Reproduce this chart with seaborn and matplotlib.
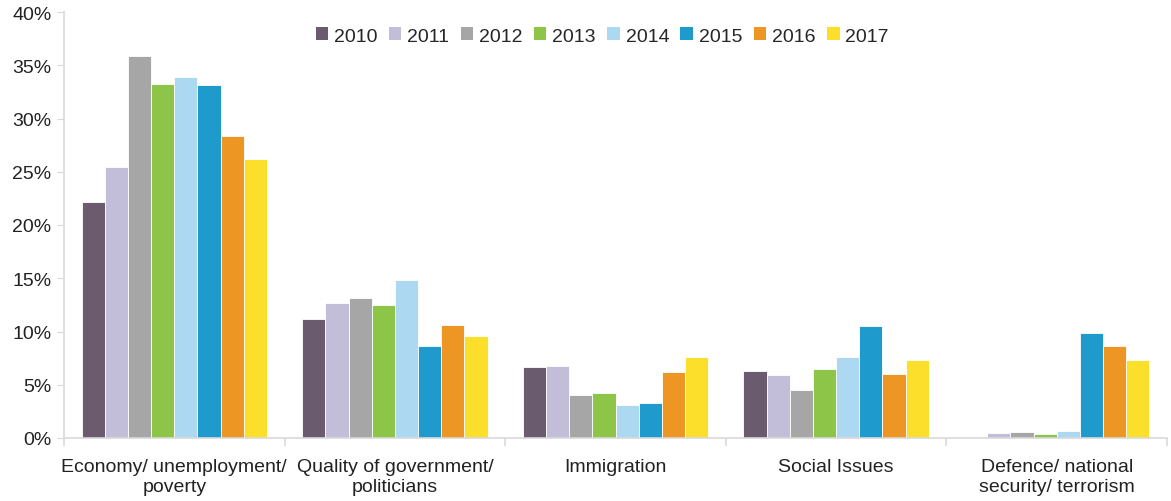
import numpy as np
import pandas as pd
import matplotlib
matplotlib.use("Agg")
import matplotlib.pyplot as plt
from matplotlib.ticker import FixedLocator, PercentFormatter
import seaborn as sns

categories = [
    "Economy/ unemployment/\npoverty",
    "Quality of government/\npoliticians",
    "Immigration",
    "Social Issues",
    "Defence/ national\nsecurity/ terrorism",
]
years = ["2010", "2011", "2012", "2013", "2014", "2015", "2016", "2017"]

v2010 = [22.2, 11.2, 6.7, 6.3, 0.0]
v2011 = [25.4, 12.7, 6.8, 5.9, 0.5]
v2012 = [35.9, 13.1, 4.0, 4.5, 0.6]
v2013 = [33.2, 12.5, 4.2, 6.5, 0.35]
v2014 = [33.9, 14.8, 3.1, 7.6, 0.7]
v2015 = [33.1, 8.6, 3.3, 10.5, 9.9]
v2016 = [28.4, 10.6, 6.2, 6.0, 8.6]
v2017 = [26.2, 9.6, 7.6, 7.3, 7.3]

colors = ["#6B5B6E", "#C2BDD8", "#A6A6A6", "#8CC547",
          "#ADD8F2", "#1F9ACC", "#EE9623", "#FBDF2A"]

series = [v2010, v2011, v2012, v2013, v2014, v2015, v2016, v2017]
rows = []
for yr, vals in zip(years, series):
    for cat, v in zip(categories, vals):
        rows.append({"category": cat, "year": yr, "value": v})
df = pd.DataFrame(rows)

sns.set_style("white")
plt.rcParams["font.family"] = ["Liberation Sans", "DejaVu Sans"]

fig = plt.figure(figsize=(11.71, 5.02), dpi=100)
ax = fig.add_axes([64 / 1171, 1 - 439 / 502, (1167 - 64) / 1171, (439 - 13) / 502])

sns.barplot(data=df, x="category", y="value", hue="year",
            palette=colors, width=0.84, gap=0, ax=ax,
            edgecolor="white", linewidth=0.6, saturation=1)

ax.set_ylim(0, 40)
ax.set_xlim(-0.5, len(categories) - 0.5)
ax.set_yticks(np.arange(0, 41, 5))
ax.yaxis.set_major_formatter(PercentFormatter(decimals=0))
ax.set_xlabel("")
ax.set_ylabel("")

for s in ["top", "right"]:
    ax.spines[s].set_visible(False)
for s in ["left", "bottom"]:
    ax.spines[s].set_color("#D9D9D9")
    ax.spines[s].set_linewidth(1.2)

ax.tick_params(axis="y", which="major", left=True, length=5, color="#D9D9D9",
               labelsize=14, labelcolor="#222222", pad=4)
ax.tick_params(axis="x", which="major", bottom=False, labelsize=14,
               labelcolor="#222222", pad=11)
ax.xaxis.set_minor_locator(FixedLocator(np.arange(-0.5, len(categories), 1.0)))
ax.tick_params(axis="x", which="minor", bottom=True, length=6,
               color="#D9D9D9", width=1.2)

leg = ax.legend(loc="upper center", bbox_to_anchor=(0.488, 1.005), ncol=8,
                frameon=False, fontsize=14, handlelength=0.65, handleheight=0.65,
                handletextpad=0.3, columnspacing=0.58)
for h in leg.legend_handles:
    h.set_edgecolor("none")

fig.savefig("out.png", dpi=100)
